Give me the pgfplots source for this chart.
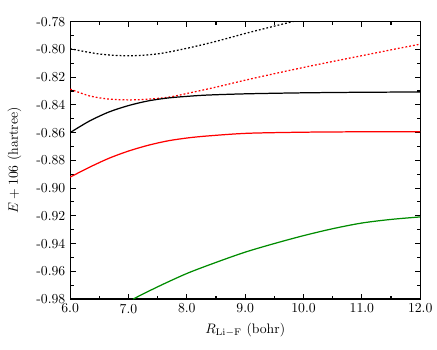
\documentclass[border=0pt]{standalone}
\usepackage{pgfplots}
\pgfplotsset{compat=1.18}
\definecolor{mygreen}{RGB}{0,140,0}
\begin{document}
\begin{tikzpicture}
\begin{axis}[
  name=main,
  scale only axis,
  width=255pt, height=202pt,
  xmin=6, xmax=12, ymin=-0.98, ymax=-0.78,
  xtick={6,7,8,9,10,11,12},
  xticklabels={6.0,7.0,8.0,9.0,10.0,11.0,12.0},
  ytick={-0.98,-0.96,-0.94,-0.92,-0.90,-0.88,-0.86,-0.84,-0.82,-0.80,-0.78},
  yticklabels={-0.98,-0.96,-0.94,-0.92,-0.90,-0.88,-0.86,-0.84,-0.82,-0.80,-0.78},
  minor x tick num=1, minor y tick num=1,
  tick align=inside,
  major tick length=4pt, minor tick length=2.5pt,
  every tick/.style={line width=0.8pt, black},
  axis line style={line width=0.8pt},
  xlabel={$R_{\mathrm{Li-F}}$ (bohr)},
  ylabel={$E + 106$ (hartree)},
  ylabel style={at={(ticklabel cs:0.5)}, anchor=south, yshift=4pt},
  clip=true,
  every axis plot/.append style={line width=0.9pt, smooth},
]
% black dotted
\addplot[black, dash pattern=on 1.3pt off 1.5pt] coordinates {
(6.0,-0.7995) (6.5,-0.8033) (7.0,-0.8046) (7.5,-0.8032) (8.0,-0.7992) (8.5,-0.7942) (9.0,-0.7885) (9.5,-0.7832) (10.0,-0.7780)};
% red dotted
\addplot[red, dash pattern=on 1.3pt off 1.5pt] coordinates {
(6.0,-0.8286) (6.33,-0.8335) (6.66,-0.8358) (7.0,-0.8364) (7.3,-0.8360) (7.68,-0.8345) (8.0,-0.8318) (8.5,-0.8272) (9.0,-0.8222) (9.5,-0.8175) (10.0,-0.8130) (10.5,-0.8087) (11.0,-0.8045) (11.5,-0.8003) (12.0,-0.7962)};
% black solid
\addplot[black] coordinates {
(6.0,-0.8600) (6.32,-0.8519) (6.66,-0.8452) (7.0,-0.8405) (7.34,-0.8371) (7.68,-0.8350) (8.02,-0.8338) (8.36,-0.8329) (9.03,-0.8320) (10.0,-0.8313) (11.0,-0.8309) (12.0,-0.8307)};
% red solid
\addplot[red] coordinates {
(6.0,-0.8921) (6.32,-0.8852) (6.66,-0.8786) (7.0,-0.8733) (7.34,-0.8691) (7.68,-0.8659) (8.02,-0.8638) (8.36,-0.8624) (9.03,-0.8605) (10.0,-0.8597) (11.0,-0.8594) (12.0,-0.8593)};
% green
\addplot[mygreen] coordinates {
(7.08,-0.9800) (7.5,-0.9712) (8.0,-0.9616) (8.5,-0.9536) (9.0,-0.9462) (9.5,-0.9400) (10.0,-0.9343) (10.5,-0.9293) (11.0,-0.9252) (11.5,-0.9226) (12.0,-0.9208)};
\end{axis}
\path[use as bounding box] ([xshift=-51.1pt,yshift=-36.7pt]main.south west) rectangle ([xshift=8.6pt,yshift=15.8pt]main.north east);
\end{tikzpicture}
\end{document}
